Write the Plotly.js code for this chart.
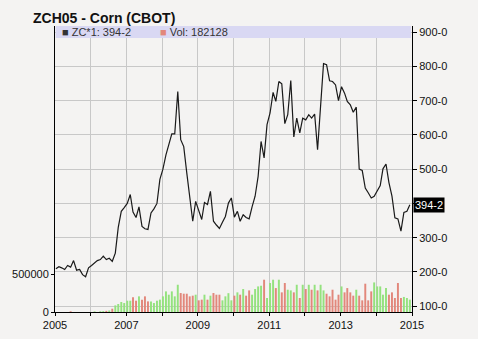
<!DOCTYPE html>
<html>
<head>
<meta charset="utf-8">
<script src="https://cdn.plot.ly/plotly-3.0.1.min.js"></script>
<style>html,body{margin:0;padding:0;background:#f4f3f2;}#chart{width:478px;height:339px;}</style>
</head>
<body>
<div id="chart"></div>
<script>
// Monthly closes, Jan 2005 .. Dec 2014 (cents/bushel)
const price = [209,215,212,207,219,214,233,205,207,192,
186,212,219,226,233,236,246,236,240,231,
255,330,377,388,400,426,375,359,390,333,
326,324,372,384,400,470,500,542,571,603,
603,727,586,566,489,411,348,406,377,353,
403,397,435,348,337,327,345,362,401,416,
360,377,348,367,359,355,390,421,479,581,
533,630,664,724,698,756,749,633,659,759,
594,649,606,649,644,659,649,661,557,673,
808,805,758,756,746,700,741,722,698,688,
666,681,500,496,445,431,416,421,435,452,
501,515,461,421,358,355,319,374,377,396];

const volume = [0,0,0,0,0,10000,0,0,0,0,
0,0,0,8000,0,10000,12000,15000,20000,44000,
88000,106000,133000,119000,150000,150000,195000,150000,208000,164000,
208000,141000,141000,119000,150000,164000,208000,274000,230000,274000,
208000,362000,252000,243000,243000,208000,217000,230000,155000,164000,
230000,164000,217000,252000,230000,230000,155000,208000,250000,155000,
217000,261000,230000,305000,217000,287000,230000,305000,340000,349000,
429000,186000,385000,429000,318000,429000,261000,385000,296000,287000,
261000,362000,186000,362000,305000,362000,296000,362000,287000,362000,
287000,243000,208000,296000,164000,230000,340000,261000,318000,261000,
217000,296000,217000,155000,376000,155000,274000,393000,340000,340000,
230000,318000,230000,261000,186000,385000,186000,200000,186000,164000];

const yearTicks = ['2005-01-01','2006-01-01','2007-01-01','2008-01-01','2009-01-01','2010-01-01','2011-01-01','2012-01-01','2013-01-01','2014-01-01','2015-01-01'];
const yearLabels = ['2005','','2007','','2009','','2011','','2013','','2015'];
const priceTicks = [100,200,300,400,500,600,700,800,900];
// the 400 label is hidden behind the last-price tag in the reference
const priceLabels = ['100-0','200-0','300-0','','500-0','600-0','700-0','800-0','900-0'];
const volTicks = [0,500000];
const volLabels = ['0','500000'];
const lastPriceText = '394-2';
const lastPriceValue = 394.25;
const lastVolText = '182128';

const dates = [];
for (let i = 0; i < price.length; i++) {
  const y = 2005 + Math.floor(i / 12);
  const m = (i % 12) + 1;
  dates.push(y + '-' + String(m).padStart(2, '0') + '-10');
}
const barColors = price.map((p, i) => (i === 0 || p >= price[i - 1]) ? '#94e27e' : '#e2877b');

const traces = [
  {type:'bar', x:dates, y:volume, yaxis:'y', marker:{color:barColors, line:{width:0}},
   width:20*86400000, hoverinfo:'skip'},
  {type:'scatter', mode:'lines', x:dates, y:price, yaxis:'y2',
   line:{color:'#1a1a1a', width:1.2}, hoverinfo:'skip'}
];

const font = 'Liberation Sans, Arial, Helvetica, sans-serif';
const layout = {
  width:478, height:339,
  paper_bgcolor:'#f4f3f2', plot_bgcolor:'#f4f3f2',
  margin:{l:55, r:66, t:26, b:27, pad:0},
  showlegend:false,
  font:{family:font, size:11, color:'#111'},
  title:{text:'<b>ZCH05 - Corn (CBOT)</b>', x:33/478, xanchor:'left', xref:'container',
         y:1-18/339, yanchor:'middle', yref:'container', font:{family:font, size:14, color:'#111'}},
  xaxis:{type:'date', range:['2005-01-01','2015-01-01'], tickmode:'array', tickvals:yearTicks, ticktext:yearLabels,
         showgrid:true, gridcolor:'#c8c8c8', gridwidth:1, showline:true, linecolor:'#000', linewidth:1,
         ticks:'outside', ticklen:3, tickcolor:'#000', zeroline:false, tickfont:{size:11, color:'#111'}},
  yaxis:{range:[0,3800000], tickmode:'array', tickvals:volTicks, ticktext:volLabels, showgrid:false,
         showline:true, linecolor:'#000', linewidth:1, ticks:'outside', ticklen:3, tickcolor:'#000', zeroline:false,
         tickfont:{size:11, color:'#111'}},
  yaxis2:{overlaying:'y', side:'right', range:[83,918], tickmode:'array', tickvals:priceTicks, ticktext:priceLabels,
          showgrid:true, gridcolor:'#c8c8c8', gridwidth:1, showline:true, linecolor:'#000', linewidth:1,
          ticks:'outside', ticklen:4, tickcolor:'#000', zeroline:false, tickfont:{size:11, color:'#111'}},
  shapes:[
    {type:'rect', xref:'paper', yref:'paper', x0:0.002, x1:0.997, y0:1-12/286, y1:1, fillcolor:'#d9d8f3', line:{width:0}, layer:'above'}
  ],
  annotations:[
    {xref:'paper', yref:'paper', x:5/357, y:1-6/286, xanchor:'left', yanchor:'middle', showarrow:false,
     text:'■ ZC*1: ' + lastPriceText, font:{family:font, size:11, color:'#333'}},
    {xref:'paper', yref:'paper', x:103/357, y:1-6/286, xanchor:'left', yanchor:'middle', showarrow:false,
     text:'<span style="color:#e2877b">■</span> Vol: ' + lastVolText, font:{family:font, size:11, color:'#333'}},
    {xref:'paper', yref:'y2', x:1, y:lastPriceValue, xanchor:'left', yanchor:'middle', xshift:1, showarrow:false,
     text:lastPriceText, bgcolor:'#000', borderpad:1, font:{family:font, size:11, color:'#fff'}}
  ]
};

Plotly.newPlot('chart', traces, layout, {displayModeBar:false, staticPlot:true});
</script>
</body>
</html>
